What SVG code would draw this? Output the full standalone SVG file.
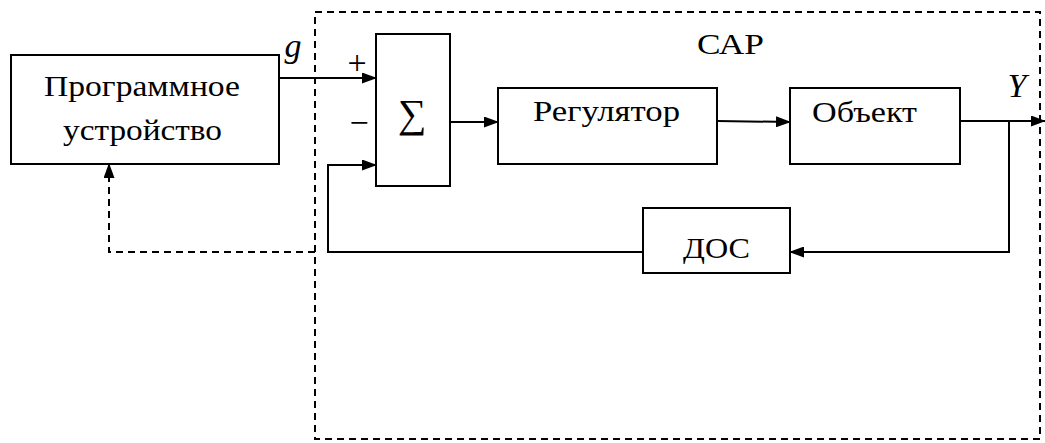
<svg xmlns="http://www.w3.org/2000/svg" width="1045" height="443" viewBox="0 0 1045 443">
<style>
.box{fill:#fff;stroke:#000;stroke-width:2}
.ln{fill:none;stroke:#000;stroke-width:2}
.dash{fill:none;stroke:#000;stroke-width:2;stroke-dasharray:7,5}
text{font-family:"Liberation Serif","Times New Roman",serif;font-size:30px;fill:#000}
.it{font-style:italic;font-size:34px}
.sg{font-size:34px}
</style>
<defs>
<marker id="ah" markerWidth="15" markerHeight="11" refX="14" refY="5.5" orient="auto" markerUnits="userSpaceOnUse">
<path d="M0,0 L15,5.5 L0,11 Z" fill="#000"/>
</marker>
</defs>
<rect x="0" y="0" width="1045" height="443" fill="#fff"/>
<g id="sap-frame">
<rect class="dash" x="315" y="12" width="725" height="427"/>
<text x="697" y="54" textLength="67" lengthAdjust="spacingAndGlyphs">САР</text>
</g>
<g id="program-device">
<rect class="box" x="11" y="55" width="268" height="109"/>
<text x="44" y="96" textLength="196" lengthAdjust="spacingAndGlyphs">Программное</text>
<text x="63" y="140" textLength="159" lengthAdjust="spacingAndGlyphs">устройство</text>
</g>
<g id="sum">
<rect class="box" x="376" y="34" width="74" height="152"/>
<text x="412" y="127" text-anchor="middle" style="font-size:40px">∑</text>
<text class="sg" x="357" y="74" text-anchor="middle">+</text>
<text class="sg" x="359" y="134" text-anchor="middle">−</text>
</g>
<g id="regulator">
<rect class="box" x="498" y="88" width="219" height="76"/>
<text x="533" y="121" textLength="147" lengthAdjust="spacingAndGlyphs">Регулятор</text>
</g>
<g id="object">
<rect class="box" x="790" y="88" width="170" height="76"/>
<text x="812" y="122" textLength="105" lengthAdjust="spacingAndGlyphs">Объект</text>
</g>
<g id="dos">
<rect class="box" x="643" y="208" width="147" height="65"/>
<text x="683" y="258" textLength="67" lengthAdjust="spacingAndGlyphs">ДОС</text>
</g>
<g id="connectors">
<line class="ln" x1="279" y1="78" x2="376" y2="78" marker-end="url(#ah)"/>
<line class="ln" x1="450" y1="122" x2="498" y2="122" marker-end="url(#ah)"/>
<line class="ln" x1="717" y1="121" x2="790" y2="122" marker-end="url(#ah)"/>
<line class="ln" x1="960" y1="121" x2="1045" y2="121" marker-end="url(#ah)"/>
<polyline class="ln" points="1009,121 1009,252 790,252" marker-end="url(#ah)"/>
<polyline class="ln" points="643,252 328,252 328,165 376,165" marker-end="url(#ah)"/>
<polyline class="dash" points="315,252 109,252 109,164" marker-end="url(#ah)"/>
<text class="it" x="293" y="57" text-anchor="middle">g</text>
<text class="it" x="1017" y="97" text-anchor="middle">Y</text>
</g>
</svg>
